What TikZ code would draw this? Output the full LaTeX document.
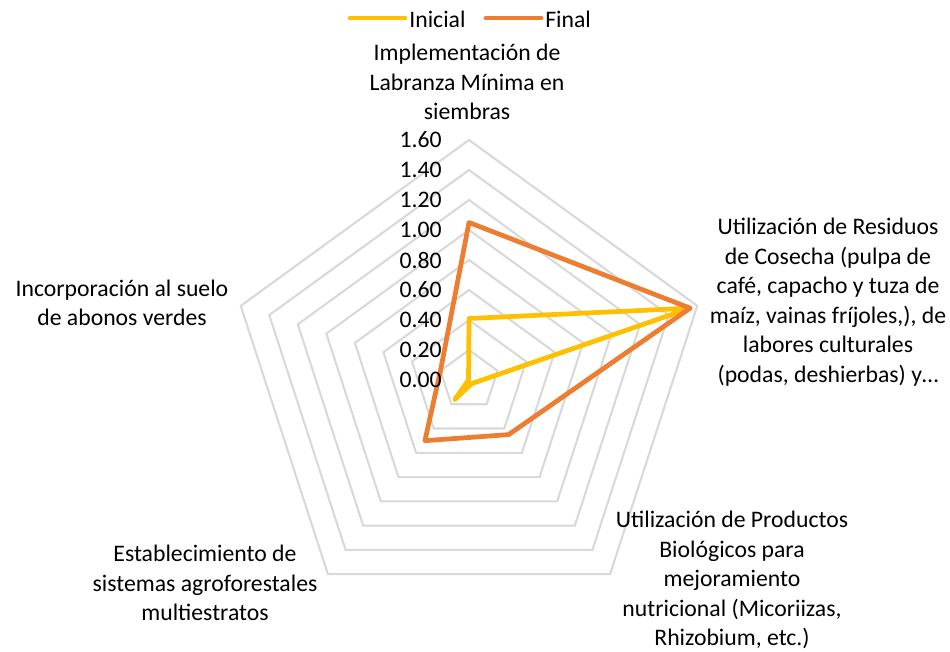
\documentclass[tikz,border=0pt]{standalone}
\usepackage{fontspec}
\setmainfont{Carlito}
\definecolor{inicial}{RGB}{255,192,0}
\definecolor{final}{RGB}{237,125,49}
\definecolor{rejilla}{RGB}{217,217,217}
\tikzset{
  etiqueta/.style={align=center,font=\fontsize{13.5}{16.8}\selectfont,inner sep=0pt},
  serie/.style={line width=2.7pt,line join=round,line cap=round},
}

\begin{document}
\begin{tikzpicture}[x=0.02cm,y=-0.02cm]
\useasboundingbox (0,0) rectangle (950,652);

% rejilla del radar
\begin{scope}[shift={(469,380)}]
\foreach \r in {30,60,...,240}
  \draw[rejilla,line width=1.2pt] (-90:\r) -- (-18:\r) -- (54:\r) -- (126:\r) -- (198:\r) -- cycle;

% series
\draw[serie,inicial] (-90:61.5) -- (-18:232.5) -- (54:4.5) -- (126:24) -- (198:0.5) -- cycle;
\draw[serie,final] (-90:157.5) -- (-18:232.5) -- (54:67.5) -- (126:75) -- (198:30) -- cycle;
\end{scope}

% valores del eje
\foreach \v [count=\i from 0] in {0.00,0.20,0.40,0.60,0.80,1.00,1.20,1.40,1.60}
  \node[etiqueta,anchor=east] (val\i) at (442,{380-30*\i}) {\v};

% categorias
\node[etiqueta] (ejeA) at (467,82) {Implementación de\\Labranza Mínima en\\siembras};
\node[etiqueta] (ejeB) at (828,302) {Utilización de Residuos\\de Cosecha (pulpa de\\café, capacho y tuza de\\maíz, vainas fríjoles,), de\\labores culturales\\(podas, deshierbas) y…};
\node[etiqueta] (ejeC) at (732,580) {Utilización de Productos\\Biológicos para\\mejoramiento\\nutricional (Micoriizas,\\Rhizobium, etc.)};
\node[etiqueta] (ejeD) at (205,583) {Establecimiento de\\sistemas agroforestales\\multiestratos};
\node[etiqueta] (ejeE) at (122,303) {Incorporación al suelo\\de abonos verdes};

% leyenda
\coordinate (iniA) at (350,18);
\coordinate (iniB) at (405,18);
\draw[serie,inicial] (iniA) -- (iniB);
\node[etiqueta,anchor=west] (leyIni) at (409,19) {Inicial};
\coordinate (finA) at (486,18);
\coordinate (finB) at (541,18);
\draw[serie,final] (finA) -- (finB);
\node[etiqueta,anchor=west] (leyFin) at (545,19) {Final};
\end{tikzpicture}
\end{document}
